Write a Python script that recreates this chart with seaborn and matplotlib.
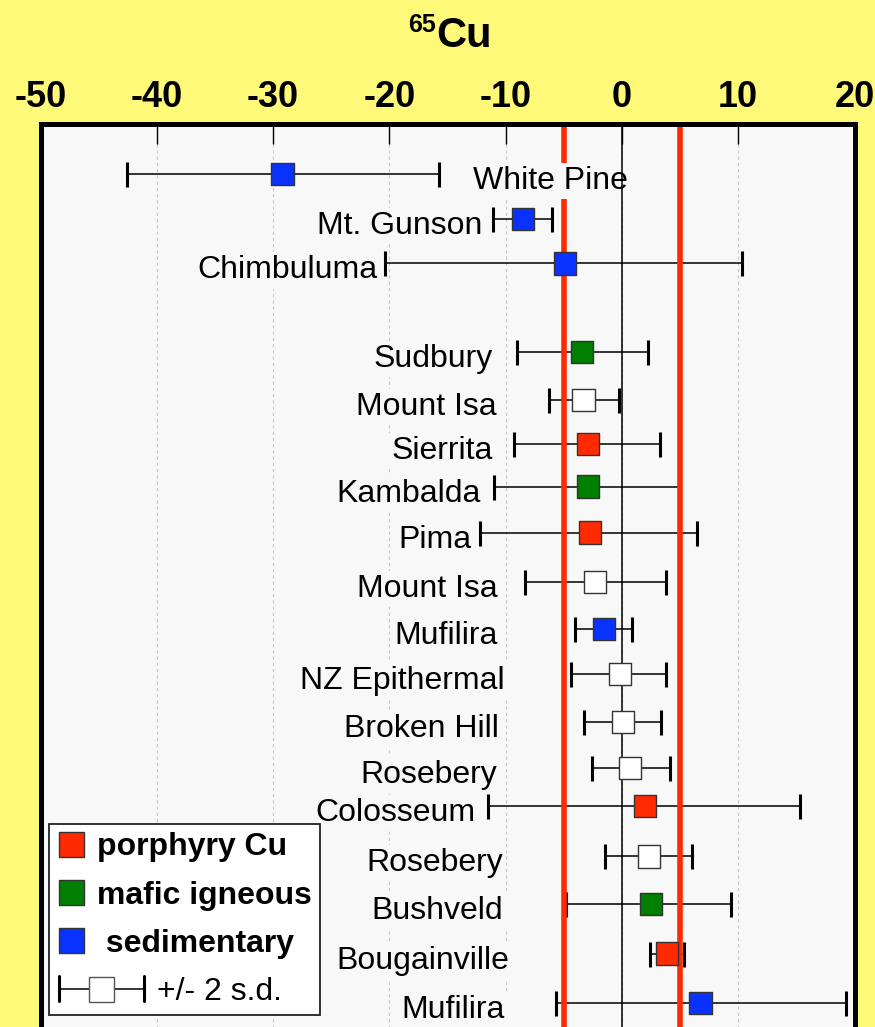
"""
65Cu isotope ranges for copper deposits, grouped by deposit type.
"""

import matplotlib
matplotlib.use('Agg')
import matplotlib.pyplot as plt
from matplotlib.lines import Line2D
from matplotlib.legend_handler import HandlerBase
import pandas as pd
import seaborn as sns

# deposits from top to bottom
deposits = ['White Pine', 'Mt. Gunson', 'Chimbuluma', 'Sudbury', 'Mount Isa',
            'Sierrita', 'Kambalda', 'Pima', 'Mount Isa', 'Mufilira',
            'NZ Epithermal', 'Broken Hill', 'Rosebery', 'Colosseum', 'Rosebery',
            'Bushveld', 'Bougainville', 'Mufilira']
dep_type = ['sedimentary', 'sedimentary', 'sedimentary', 'mafic igneous', 'other',
            'porphyry Cu', 'mafic igneous', 'porphyry Cu', 'other', 'sedimentary',
            'other', 'other', 'other', 'porphyry Cu', 'other',
            'mafic igneous', 'porphyry Cu', 'sedimentary']
# mean value and the +/- 2 s.d. range
cu65 = [-29.2, -8.5, -4.9, -3.45, -3.3, -2.9, -2.9, -2.75, -2.35, -1.55,
        -0.2, 0.1, 0.7, 2.0, 2.35, 2.5, 3.85, 6.75]
low = [-42.6, -11.1, -20.4, -9.0, -6.25, -9.3, -11.0, -12.2, -8.3, -4.0,
       -4.4, -3.25, -2.55, -11.5, -1.45, -4.8, 2.45, -5.7]
high = [-15.7, -6.0, 10.3, 2.25, -0.25, 3.3, 4.9, 6.45, 3.75, 0.85,
        3.75, 3.4, 4.15, 15.3, 6.0, 9.4, 5.3, 19.25]
# row positions (rows are not evenly spaced in the original)
row = [0, 0.97, 1.94, 3.87, 4.91, 5.87, 6.79, 7.79, 8.87, 9.88,
       10.87, 11.9, 12.9, 13.74, 14.83, 15.87, 16.94, 18.01]
# where each deposit name sits (right edge, except White Pine)
label_x = [-12.8, -12.0, -21.0, -11.1, -10.75, -11.1, -12.1, -12.9, -10.7, -10.7,
           -10.1, -10.6, -10.7, -12.6, -10.25, -10.2, -9.65, -10.1]
label_ha = ['left'] + ['right'] * 17

ref_lines = [-5, 5]
xticks = [-50, -40, -30, -20, -10, 0, 10, 20]

type_names = ['porphyry Cu', 'mafic igneous', 'sedimentary']
type_colors = {'porphyry Cu': '#ff2a00', 'mafic igneous': '#008000',
               'sedimentary': '#0a32ff', 'other': '#ffffff'}

YELLOW = '#fff97a'
PLOT_BG = '#f8f8f8'


class SdHandler(HandlerBase):
    # wide errorbar icon for the "+/- 2 s.d." legend entry
    def legend_artist(self, legend, orig_handle, fontsize, handlebox):
        handlebox.width = 64
        return super().legend_artist(legend, orig_handle, fontsize, handlebox)

    def create_artists(self, legend, orig_handle, xdescent, ydescent,
                       width, height, fontsize, trans):
        x0 = -xdescent + 1.5
        x1 = -xdescent + width - 1.5
        yc = -ydescent + height / 2
        h = 9
        artists = [
            Line2D([x0, x1], [yc, yc], color='black', lw=1.1),
            Line2D([x0, x0], [yc - h, yc + h], color='black', lw=2.2),
            Line2D([x1, x1], [yc - h, yc + h], color='black', lw=2.2),
            Line2D([(x0 + x1) / 2], [yc], marker='s', ms=18, mfc='white',
                   mec='#555555', mew=1, ls='none'),
        ]
        for a in artists:
            a.set_transform(trans)
        return artists


def main():
    sns.set_style('white')
    plt.rcParams['font.family'] = ['Liberation Sans', 'DejaVu Sans']
    plt.rcParams['text.color'] = 'black'
    plt.rcParams['xtick.color'] = 'black'
    plt.rcParams['xtick.labelcolor'] = 'black'

    df = pd.DataFrame({'deposit': deposits, 'type': dep_type, 'cu65': cu65,
                       'low': low, 'high': high, 'row': row})

    fig = plt.figure(figsize=(8.75, 10.27), dpi=100, facecolor=YELLOW)
    ax = fig.add_axes([0.0463, -0.032, 0.9303, 0.9117])
    ax.set_facecolor(PLOT_BG)

    # error bars
    ax.errorbar(df['cu65'], df['row'],
                xerr=[df['cu65'] - df['low'], df['high'] - df['cu65']],
                fmt='none', ecolor='black', elinewidth=1.1, capsize=9,
                capthick=2.2, zorder=2)

    # reference lines
    for v in ref_lines:
        ax.axvline(v, color='#ff2a00', lw=4, zorder=2.5)
    ax.axvline(0, color='black', lw=1.1, zorder=3.5)

    # markers
    sns.scatterplot(data=df, x='cu65', y='row', hue='type', palette=type_colors,
                    marker='s', s=256, edgecolor='#333333', linewidth=1,
                    legend=False, ax=ax, zorder=4)

    # deposit names
    for name, lx, ha, r in zip(deposits, label_x, label_ha, row):
        ax.annotate(name, (lx, r), xytext=(0, -5), textcoords='offset points',
                    ha=ha, va='center', fontsize=23, color='black', zorder=3,
                    bbox=dict(boxstyle='square,pad=0.1', fc=PLOT_BG, ec='none'))

    ax.set_xlim(-50, 20)
    ax.set_ylim(19.25, -1.1)
    ax.set_xlabel('')
    ax.set_ylabel('')
    ax.set_yticks([])
    ax.set_xticks(xticks)
    ax.set_xticklabels([str(t) for t in xticks], fontsize=26, fontweight='bold',
                       color='black')
    ax.xaxis.tick_top()
    ax.tick_params(axis='x', direction='in', length=14.4, width=1, color='black',
                   pad=6, top=True, bottom=False, labeltop=True, labelbottom=False)
    ax.grid(axis='x', color='#c4c4c4', linestyle=(0, (3, 3)), linewidth=0.75)
    ax.set_axisbelow(True)
    for sp in ax.spines.values():
        sp.set_color('black')
        sp.set_linewidth(3.6)
        sp.set_visible(True)

    # title 65Cu
    fig.text(436 / 875, 1 - 31.7 / 1027, '65', fontsize=18, fontweight='bold',
             ha='right', va='baseline', color='black')
    fig.text(436 / 875, 1 - 46.7 / 1027, 'Cu', fontsize=30, fontweight='bold',
             ha='left', va='baseline', color='black')

    # legend
    sd_handle = object()
    handles = [Line2D([], [], marker='s', ms=18, mfc=type_colors[t], mec='#333333',
                      mew=1, ls='none') for t in type_names]
    handles.append(sd_handle)
    labels = ['porphyry Cu', 'mafic igneous', ' sedimentary', '+/- 2 s.d.']
    leg = ax.legend(handles, labels, handler_map={sd_handle: SdHandler()},
                    loc='upper left', bbox_to_anchor=(49 / 875, 1 - 824 / 1027),
                    bbox_transform=fig.transFigure, borderaxespad=0, fontsize=23,
                    handlelength=0.9, handleheight=0.8, handletextpad=0.35,
                    labelspacing=0.56, borderpad=0.25, frameon=True, fancybox=False,
                    framealpha=1, edgecolor='#222222', facecolor='white')
    leg.get_frame().set_linewidth(1.3)
    for i, t in enumerate(leg.get_texts()):
        t.set_fontweight('bold' if i < 3 else 'normal')
        t.set_color('black')

    fig.savefig('out.png', dpi=100, facecolor=fig.get_facecolor())


if __name__ == '__main__':
    main()
